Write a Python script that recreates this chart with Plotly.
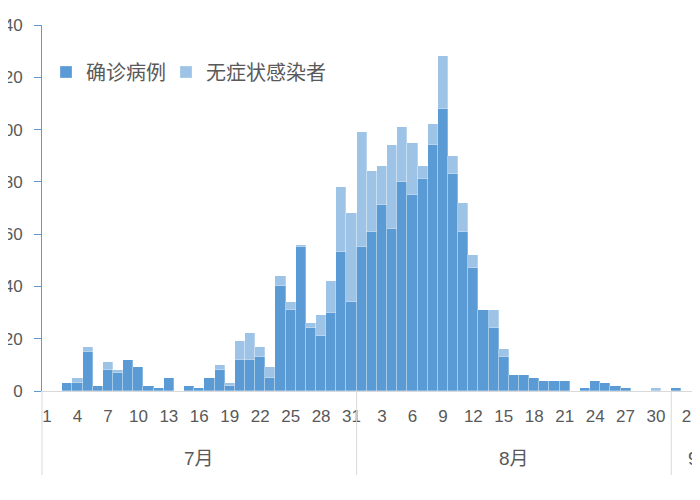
import plotly.graph_objects as go
import pandas as pd

# Daily values, 2020-07-01 .. 2020-09-03
dates = pd.date_range("2020-07-01", "2020-09-03", freq="D").strftime("%Y-%m-%d").tolist()

confirmed = [
    # July 1-31
    0, 0, 3, 3, 15, 2, 8, 7, 12, 9, 2, 1, 5, 0, 2, 1, 5, 8, 2, 12,
    12, 13, 5, 40, 31, 55, 24, 21, 30, 53, 34,
    # August 1-31
    55, 61, 71, 62, 80, 75, 81, 94, 108, 83, 61, 47, 31, 24, 13, 6,
    6, 5, 4, 4, 4, 0, 1, 4, 3, 2, 1, 0, 0, 0, 0,
    # September 1-3
    1, 0, 1,
]
asymptomatic = [
    # July 1-31
    0, 0, 0, 2, 2, 0, 3, 1, 0, 0, 0, 0, 0, 0, 0, 0, 0, 2, 1, 7,
    10, 4, 4, 4, 3, 1, 2, 8, 12, 25, 34,
    # August 1-31
    44, 23, 15, 32, 21, 20, 5, 8, 20, 7, 11, 5, 0, 7, 3, 0,
    0, 0, 0, 0, 0, 0, 0, 0, 0, 0, 0, 0, 0, 1, 0,
    # September 1-3
    0, 0, 0,
]
series_names = ["确诊病例", "无症状感染者"]
month_labels = ["7月", "8月", "9月"]
month_label_pos = ["2020-07-16", "2020-08-16 00:00"]
month_bounds = ["2020-07-31 12:00", "2020-08-31 12:00"]

DARK = "#5B9BD5"
LIGHT = "#9DC3E6"
GRAY = "#595959"
FONT = "Liberation Sans, Noto Sans CJK SC, sans-serif"

fig = go.Figure()
fig.add_trace(go.Bar(x=dates, y=confirmed, name=series_names[0], legend="legend",
                     marker=dict(color=DARK, line=dict(color="rgba(255,255,255,0.45)", width=0.6))))
fig.add_trace(go.Bar(x=dates, y=asymptomatic, name=series_names[1], legend="legend2",
                     marker=dict(color=LIGHT, line=dict(color="rgba(255,255,255,0.45)", width=0.6))))

PLOT_H = 366
ML, MT, MB = 34, 17, 101
PLOT_W = 692 - ML

shapes = [dict(type="line", xref="paper", yref="paper", x0=0, x1=0, y0=0, y1=-84 / PLOT_H,
               line=dict(color="#D9D9D9", width=1))]
for b in month_bounds:
    shapes.append(dict(type="line", xref="x", yref="paper", x0=b, x1=b, y0=0, y1=-84 / PLOT_H,
                       line=dict(color="#D9D9D9", width=1)))

annotations = []
for lab, pos in zip(month_labels[:2], month_label_pos):
    annotations.append(dict(text=lab, x=pos, xref="x", y=-67 / PLOT_H, yref="paper",
                            showarrow=False, yanchor="middle", xanchor="center",
                            font=dict(size=19, color=GRAY, family=FONT)))
# September label, mostly cut off by the right edge as in the reference
annotations.append(dict(text=month_labels[2], x=(686 - 42) / PLOT_W, xref="paper",
                        y=-67 / PLOT_H, yref="paper", showarrow=False,
                        yanchor="middle", xanchor="left",
                        font=dict(size=19, color=GRAY, family=FONT)))

legend_y = 1 - (72 - 25) / PLOT_H
legend_common = dict(orientation="h", xanchor="left", yanchor="middle", y=legend_y,
                     font=dict(size=20, color=GRAY, family=FONT), bgcolor="rgba(0,0,0,0)")

fig.update_layout(
    width=692, height=484,
    margin=dict(l=ML, r=0, t=MT, b=MB),
    paper_bgcolor="white", plot_bgcolor="white",
    barmode="stack", bargap=0,
    font=dict(family=FONT, color=GRAY, size=17),
    showlegend=True,
    legend=dict(x=(54 - 50) / PLOT_W, **legend_common),
    legend2=dict(x=(166 - 42) / PLOT_W, **legend_common),
    xaxis=dict(type="date", range=["2020-06-30 12:00", "2020-09-03 08:00"],
               tick0="2020-07-01", dtick=3 * 86400000, tickformat="%-d",
               showline=True, linecolor="#D9D9D9", linewidth=1,
               ticks="", showgrid=False, zeroline=False,
               tickfont=dict(size=17, color=GRAY, family=FONT),
               ticklabelstandoff=10, automargin=False),
    yaxis=dict(range=[0, 140], dtick=20, showline=True, linecolor=DARK, linewidth=1,
               ticks="outside", ticklen=7, tickcolor=DARK, tickwidth=1,
               showgrid=False, zeroline=False,
               tickfont=dict(size=17, color=GRAY, family=FONT),
               ticklabelstandoff=8, automargin=False),
    shapes=shapes,
    annotations=annotations,
)

fig.write_html("out.html")
